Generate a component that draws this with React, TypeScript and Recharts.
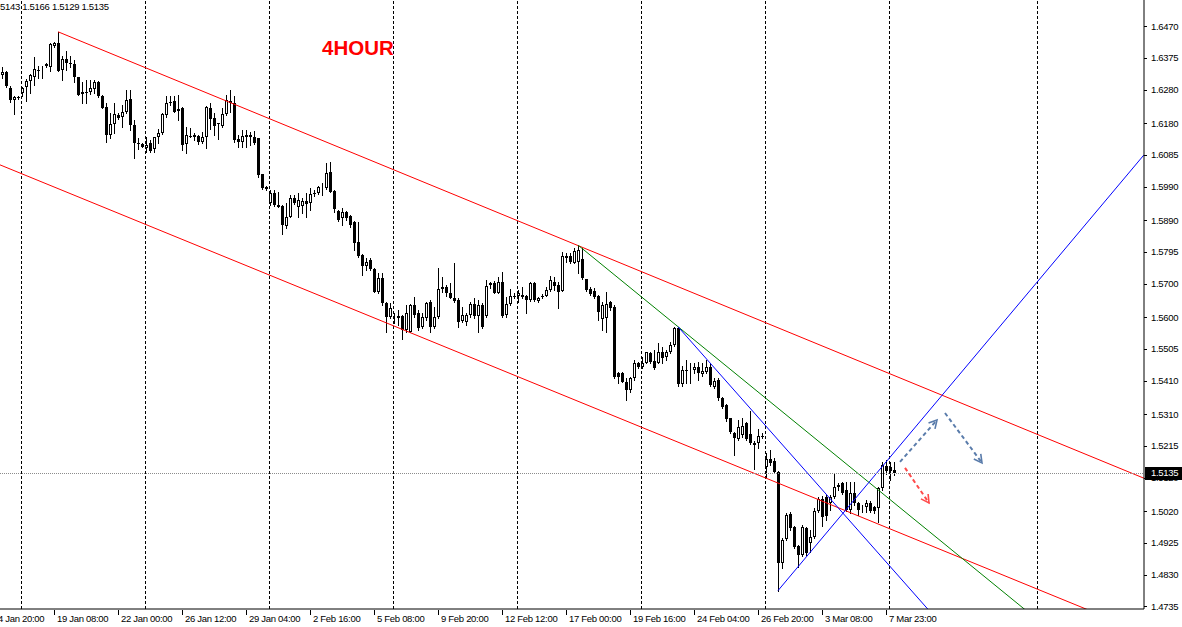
import React from "react"
import { ComposedChart, Bar, XAxis, YAxis, ReferenceLine } from "recharts"

// GBPUSD H4 candles, oldest first
const opens = [
  1.6324, 1.6333, 1.6285, 1.6249, 1.6258, 1.6270, 1.6288, 1.6306, 1.6318, 1.6339,
  1.6339, 1.6357, 1.6348, 1.6410, 1.6419, 1.6339, 1.6372, 1.6361, 1.6356, 1.6317,
  1.6266, 1.6274, 1.6274, 1.6283, 1.6303, 1.6261, 1.6228, 1.6144, 1.6177, 1.6204,
  1.6198, 1.6213, 1.6252, 1.6174, 1.6120, 1.6117, 1.6105, 1.6121, 1.6103, 1.6138,
  1.6149, 1.6204, 1.6244, 1.6247, 1.6221, 1.6225, 1.6117, 1.6141, 1.6144, 1.6141,
  1.6124, 1.6137, 1.6224, 1.6194, 1.6179, 1.6171, 1.6207, 1.6247, 1.6239, 1.6132,
  1.6124, 1.6144, 1.6144, 1.6137, 1.6134, 1.6027, 1.5990, 1.5942, 1.5970, 1.5935,
  1.5932, 1.5873, 1.5900, 1.5955, 1.5930, 1.5932, 1.5948, 1.5940, 1.5970, 1.5970,
  1.5985, 1.5985, 1.6035, 1.5978, 1.5918, 1.5895, 1.5915, 1.5902, 1.5885, 1.5824,
  1.5786, 1.5753, 1.5771, 1.5743, 1.5676, 1.5716, 1.5641, 1.5601, 1.5596, 1.5596,
  1.5604, 1.5561, 1.5556, 1.5636, 1.5611, 1.5569, 1.5596, 1.5646, 1.5571, 1.5601,
  1.5689, 1.5689, 1.5671, 1.5656, 1.5651, 1.5589, 1.5586, 1.5606, 1.5639, 1.5603,
  1.5636, 1.5603, 1.5701, 1.5701, 1.5673, 1.5706, 1.5606, 1.5639, 1.5664, 1.5664,
  1.5666, 1.5663, 1.5651, 1.5701, 1.5649, 1.5664, 1.5664, 1.5681, 1.5706, 1.5696,
  1.5679, 1.5776, 1.5783, 1.5763, 1.5766, 1.5773, 1.5713, 1.5683, 1.5679, 1.5663,
  1.5593, 1.5596, 1.5646, 1.5629, 1.5434, 1.5432, 1.5407, 1.5382, 1.5417, 1.5462,
  1.5452, 1.5464, 1.5492, 1.5470, 1.5464, 1.5495, 1.5481, 1.5494, 1.5516, 1.5568,
  1.5400, 1.5442, 1.5442, 1.5442, 1.5452, 1.5430, 1.5437, 1.5450, 1.5392, 1.5412,
  1.5357, 1.5337, 1.5297, 1.5252, 1.5234, 1.5247, 1.5282, 1.5249, 1.5223, 1.5223,
  1.5244, 1.5153, 1.5175, 1.5171, 1.5136, 1.4864, 1.4935, 1.5011, 1.4971, 1.4915,
  1.4889, 1.4968, 1.4925, 1.4943, 1.5020, 1.5055, 1.5062, 1.5045, 1.5061, 1.5098,
  1.5105, 1.5083, 1.5023, 1.5075, 1.5043, 1.5030, 1.5033, 1.5045, 1.5031, 1.5028,
  1.5088, 1.5155, 1.5153, 1.5143,
]

const highs = [
  1.6348, 1.6336, 1.6291, 1.6261, 1.6261, 1.6288, 1.6312, 1.6327, 1.6378, 1.6351,
  1.6351, 1.6360, 1.6419, 1.6422, 1.6453, 1.6381, 1.6396, 1.6381, 1.6369, 1.6318,
  1.6304, 1.6309, 1.6309, 1.6309, 1.6306, 1.6264, 1.6240, 1.6210, 1.6240, 1.6210,
  1.6234, 1.6279, 1.6279, 1.6189, 1.6135, 1.6120, 1.6139, 1.6129, 1.6139, 1.6162,
  1.6211, 1.6261, 1.6261, 1.6261, 1.6264, 1.6228, 1.6169, 1.6165, 1.6151, 1.6144,
  1.6154, 1.6231, 1.6241, 1.6210, 1.6180, 1.6225, 1.6264, 1.6279, 1.6261, 1.6144,
  1.6159, 1.6159, 1.6154, 1.6157, 1.6135, 1.6028, 1.5992, 1.5980, 1.5980, 1.5975,
  1.5935, 1.5940, 1.5965, 1.5965, 1.5970, 1.5956, 1.5970, 1.5985, 1.5980, 1.5992,
  1.6000, 1.6060, 1.6065, 1.5980, 1.5920, 1.5925, 1.5917, 1.5905, 1.5887, 1.5885,
  1.5788, 1.5776, 1.5776, 1.5747, 1.5731, 1.5731, 1.5646, 1.5643, 1.5611, 1.5621,
  1.5606, 1.5636, 1.5639, 1.5661, 1.5621, 1.5612, 1.5646, 1.5651, 1.5631, 1.5746,
  1.5721, 1.5696, 1.5701, 1.5761, 1.5657, 1.5629, 1.5613, 1.5646, 1.5656, 1.5651,
  1.5642, 1.5711, 1.5706, 1.5708, 1.5721, 1.5736, 1.5661, 1.5683, 1.5673, 1.5681,
  1.5691, 1.5666, 1.5706, 1.5706, 1.5660, 1.5669, 1.5689, 1.5723, 1.5721, 1.5705,
  1.5795, 1.5791, 1.5791, 1.5806, 1.5815, 1.5806, 1.5714, 1.5690, 1.5687, 1.5666,
  1.5646, 1.5676, 1.5649, 1.5636, 1.5437, 1.5436, 1.5417, 1.5422, 1.5472, 1.5467,
  1.5481, 1.5496, 1.5496, 1.5502, 1.5522, 1.5511, 1.5502, 1.5526, 1.5571, 1.5571,
  1.5454, 1.5472, 1.5462, 1.5464, 1.5467, 1.5462, 1.5472, 1.5462, 1.5417, 1.5418,
  1.5361, 1.5340, 1.5298, 1.5257, 1.5292, 1.5297, 1.5287, 1.5320, 1.5229, 1.5264,
  1.5252, 1.5193, 1.5203, 1.5178, 1.5140, 1.4939, 1.5013, 1.5017, 1.4975, 1.4918,
  1.4978, 1.4973, 1.4963, 1.5028, 1.5063, 1.5065, 1.5068, 1.5068, 1.5133, 1.5105,
  1.5108, 1.5108, 1.5108, 1.5108, 1.5047, 1.5038, 1.5053, 1.5051, 1.5035, 1.5093,
  1.5168, 1.5173, 1.5168, 1.5166,
]

const lows = [
  1.6315, 1.6288, 1.6243, 1.6207, 1.6252, 1.6261, 1.6246, 1.6270, 1.6294, 1.6315,
  1.6315, 1.6348, 1.6336, 1.6407, 1.6336, 1.6309, 1.6339, 1.6349, 1.6304, 1.6264,
  1.6240, 1.6240, 1.6267, 1.6270, 1.6258, 1.6225, 1.6124, 1.6135, 1.6150, 1.6192,
  1.6169, 1.6211, 1.6159, 1.6076, 1.6103, 1.6108, 1.6094, 1.6094, 1.6094, 1.6121,
  1.6147, 1.6199, 1.6234, 1.6213, 1.6189, 1.6100, 1.6090, 1.6138, 1.6129, 1.6117,
  1.6119, 1.6105, 1.6161, 1.6144, 1.6132, 1.6169, 1.6204, 1.6214, 1.6124, 1.6109,
  1.6109, 1.6109, 1.6114, 1.6117, 1.6020, 1.5983, 1.5980, 1.5935, 1.5932, 1.5929,
  1.5848, 1.5865, 1.5899, 1.5938, 1.5900, 1.5911, 1.5900, 1.5920, 1.5962, 1.5968,
  1.5965, 1.5983, 1.5974, 1.5915, 1.5887, 1.5875, 1.5890, 1.5870, 1.5801, 1.5780,
  1.5726, 1.5741, 1.5741, 1.5675, 1.5672, 1.5636, 1.5556, 1.5597, 1.5581, 1.5576,
  1.5533, 1.5555, 1.5555, 1.5601, 1.5561, 1.5567, 1.5591, 1.5556, 1.5567, 1.5597,
  1.5675, 1.5663, 1.5657, 1.5645, 1.5569, 1.5585, 1.5576, 1.5601, 1.5597, 1.5556,
  1.5567, 1.5601, 1.5686, 1.5672, 1.5672, 1.5600, 1.5601, 1.5636, 1.5657, 1.5646,
  1.5657, 1.5613, 1.5648, 1.5648, 1.5645, 1.5656, 1.5663, 1.5678, 1.5681, 1.5626,
  1.5678, 1.5766, 1.5762, 1.5761, 1.5733, 1.5714, 1.5678, 1.5666, 1.5657, 1.5591,
  1.5561, 1.5556, 1.5621, 1.5418, 1.5404, 1.5406, 1.5352, 1.5377, 1.5412, 1.5447,
  1.5448, 1.5462, 1.5464, 1.5445, 1.5462, 1.5462, 1.5472, 1.5492, 1.5513, 1.5394,
  1.5394, 1.5402, 1.5402, 1.5433, 1.5412, 1.5424, 1.5433, 1.5394, 1.5388, 1.5352,
  1.5328, 1.5289, 1.5253, 1.5188, 1.5232, 1.5242, 1.5232, 1.5220, 1.5145, 1.5208,
  1.5237, 1.5123, 1.5158, 1.5134, 1.4782, 1.4849, 1.4933, 1.4963, 1.4909, 1.4852,
  1.4886, 1.4889, 1.4898, 1.4939, 1.5017, 1.4975, 1.4993, 1.5023, 1.5059, 1.5083,
  1.5071, 1.5020, 1.5014, 1.5038, 1.5008, 1.5018, 1.5018, 1.5017, 1.5014, 1.4988,
  1.5083, 1.5131, 1.5113, 1.5129,
]

const closes = [
  1.6333, 1.6291, 1.6249, 1.6258, 1.6257, 1.6285, 1.6306, 1.6324, 1.6342, 1.6337,
  1.6340, 1.6351, 1.6416, 1.6419, 1.6337, 1.6372, 1.6360, 1.6356, 1.6317, 1.6264,
  1.6274, 1.6273, 1.6284, 1.6303, 1.6261, 1.6225, 1.6144, 1.6177, 1.6207, 1.6196,
  1.6213, 1.6249, 1.6174, 1.6121, 1.6117, 1.6109, 1.6114, 1.6097, 1.6137, 1.6150,
  1.6207, 1.6239, 1.6239, 1.6214, 1.6217, 1.6114, 1.6144, 1.6140, 1.6139, 1.6124,
  1.6137, 1.6227, 1.6191, 1.6171, 1.6176, 1.6207, 1.6249, 1.6239, 1.6129, 1.6124,
  1.6141, 1.6139, 1.6137, 1.6121, 1.6025, 1.5985, 1.5982, 1.5970, 1.5935, 1.5930,
  1.5875, 1.5900, 1.5955, 1.5942, 1.5950, 1.5948, 1.5937, 1.5968, 1.5969, 1.5988,
  1.5986, 1.6032, 1.5975, 1.5922, 1.5890, 1.5915, 1.5895, 1.5875, 1.5822, 1.5783,
  1.5753, 1.5766, 1.5743, 1.5676, 1.5716, 1.5641, 1.5601, 1.5626, 1.5597, 1.5604,
  1.5561, 1.5611, 1.5636, 1.5606, 1.5566, 1.5601, 1.5641, 1.5569, 1.5601, 1.5683,
  1.5683, 1.5671, 1.5658, 1.5649, 1.5586, 1.5606, 1.5606, 1.5639, 1.5603, 1.5636,
  1.5571, 1.5693, 1.5696, 1.5673, 1.5706, 1.5603, 1.5639, 1.5664, 1.5663, 1.5671,
  1.5661, 1.5651, 1.5701, 1.5651, 1.5656, 1.5663, 1.5681, 1.5711, 1.5693, 1.5676,
  1.5783, 1.5783, 1.5766, 1.5798, 1.5801, 1.5716, 1.5681, 1.5669, 1.5659, 1.5616,
  1.5636, 1.5639, 1.5626, 1.5422, 1.5422, 1.5407, 1.5382, 1.5417, 1.5462, 1.5450,
  1.5464, 1.5494, 1.5467, 1.5447, 1.5495, 1.5477, 1.5494, 1.5516, 1.5566, 1.5400,
  1.5442, 1.5441, 1.5443, 1.5452, 1.5432, 1.5440, 1.5450, 1.5397, 1.5410, 1.5357,
  1.5332, 1.5294, 1.5257, 1.5237, 1.5270, 1.5274, 1.5234, 1.5223, 1.5218, 1.5244,
  1.5243, 1.5175, 1.5165, 1.5138, 1.4866, 1.4933, 1.5008, 1.4968, 1.4913, 1.4889,
  1.4971, 1.4894, 1.4943, 1.5020, 1.5055, 1.5001, 1.5005, 1.5061, 1.5093, 1.5091,
  1.5075, 1.5023, 1.5075, 1.5043, 1.5023, 1.5031, 1.5045, 1.5021, 1.5021, 1.5088,
  1.5158, 1.5141, 1.5141, 1.5135,
]

// time axis: bar index of each label, and the label text
const dateIdx = [-3, 13, 29, 45, 61, 77, 93, 109, 125, 141, 157, 173, 189, 205, 221]
const dateLabels = [
  "14 Jan 20:00", "19 Jan 08:00", "22 Jan 00:00", "26 Jan 12:00", "29 Jan 04:00",
  "2 Feb 16:00", "5 Feb 08:00", "9 Feb 20:00", "12 Feb 12:00", "17 Feb 00:00",
  "19 Feb 16:00", "24 Feb 04:00", "26 Feb 20:00", "3 Mar 08:00", "7 Mar 23:00",
]

// dashed vertical separators (bar positions)
const gridIdx = [4.75, 35.75, 66.75, 97.75, 128.75, 159.75, 190.75, 221.75, 258.75]

const priceTicks = [
  1.647, 1.6375, 1.628, 1.618, 1.6085, 1.599, 1.589, 1.5795, 1.57, 1.56,
  1.5505, 1.541, 1.531, 1.5215, 1.512, 1.502, 1.4925, 1.483, 1.4735,
]

const lastPrice = 1.5135
const SYMBOL_INFO = "1.5143 1.5166 1.5129 1.5135"

// trend lines drawn on the chart: [barIndex, price] pairs
const trendLines = [
  { from: [14, 1.6453], to: [285.5, 1.5118], color: "#ff0000" },
  { from: [-0.5, 1.6055], to: [285.5, 1.4656], color: "#ff0000" },
  { from: [144, 1.5815], to: [285.5, 1.4435], color: "#008000" },
  { from: [169, 1.5571], to: [285.5, 1.3996], color: "#0000ff" },
  { from: [194, 1.4782], to: [285.5, 1.6085], color: "#0000ff" },
]

const arrows = [
  { from: [224.5, 1.5167], to: [233.75, 1.5292], color: "#5a7cab" },
  { from: [235.75, 1.5313], to: [245, 1.5164], color: "#5a7cab" },
  { from: [225.75, 1.5149], to: [231.75, 1.5044], color: "#ff4a4a" },
]

const FONT = "'Liberation Sans', Arial, sans-serif"

const candles = opens.map((open, i) => ({
  i,
  open,
  high: highs[i],
  low: lows[i],
  close: closes[i],
  range: [lows[i], highs[i]],
}))

const Candle = (props: any) => {
  const { x, y, width, height, payload } = props
  if (x == null || !payload) return null
  const top = Math.min(y, y + height)
  const h = Math.abs(height)
  const { open, high, low, close } = payload
  const span = high - low || 1e-9
  const toY = (p: number) => top + ((high - p) / span) * h
  const cx = Math.round(x + width / 2)
  const bTop = Math.round(Math.min(toY(open), toY(close)))
  const bBot = Math.max(bTop + 1, Math.round(Math.max(toY(open), toY(close))))
  const up = close > open
  return (
    <g shapeRendering="crispEdges">
      <line x1={cx + 0.5} x2={cx + 0.5} y1={Math.round(top)} y2={Math.round(top + h) + 1} stroke="#000" />
      {up ? (
        <rect x={cx - 0.5} y={bTop + 0.5} width={2} height={Math.max(bBot - bTop - 1, 0)} fill="#fff" stroke="#000" />
      ) : (
        <rect x={cx - 1} y={bTop} width={3} height={Math.max(bBot - bTop, 1)} fill="#000" />
      )}
    </g>
  )
}

// price labels; the current price is drawn last as a black box on top
const PriceTick = (props: any) => {
  const { x, y, payload } = props
  const yy = Math.round(y) + 0.5
  if (payload.value === lastPrice) {
    return (
      <g>
        <rect x={x + 1} y={Math.round(y) - 6} width={38} height={13} fill="#000" />
        <text x={x + 7} y={y + 3.5} fontSize={9.5} letterSpacing={-0.3} fontFamily={FONT} fill="#fff">
          {lastPrice.toFixed(4)}
        </text>
      </g>
    )
  }
  return (
    <g>
      <line x1={x} x2={x + 3} y1={yy} y2={yy} stroke="#000" shapeRendering="crispEdges" />
      <text x={x + 7} y={y + 3.5} fontSize={9.5} letterSpacing={-0.3} fontFamily={FONT} fill="#000">
        {payload.value.toFixed(4)}
      </text>
    </g>
  )
}

const DateTick = (props: any) => {
  const { x, y, payload } = props
  const k = dateIdx.indexOf(payload.value)
  const xx = Math.round(x) + 0.5
  return (
    <g>
      <line x1={xx} x2={xx} y1={y + 1} y2={y + 6} stroke="#000" shapeRendering="crispEdges" />
      <text x={x + 3} y={y + 13} fontSize={9.5} letterSpacing={-0.3} fontFamily={FONT} fill="#000">
        {dateLabels[k]}
      </text>
    </g>
  )
}

const priceLine = (props: any) => {
  const { x1, x2, y1 } = props
  const yy = Math.round(y1) + 0.5
  return (
    <line
      x1={Math.min(x1, x2)}
      x2={Math.max(x1, x2)}
      y1={yy}
      y2={yy}
      stroke="#8c8c8c"
      strokeDasharray="1 1"
      shapeRendering="crispEdges"
    />
  )
}

const arrowShape = (color: string) => (props: any) => {
  const { x1, y1, x2, y2 } = props
  const ang = Math.atan2(y2 - y1, x2 - x1)
  const len = 9
  const a1 = ang + Math.PI - 0.5
  const a2 = ang + Math.PI + 0.5
  const pts = `${x2 + len * Math.cos(a1)},${y2 + len * Math.sin(a1)} ${x2},${y2} ${x2 + len * Math.cos(a2)},${y2 + len * Math.sin(a2)}`
  return (
    <g>
      <line x1={x1} y1={y1} x2={x2} y2={y2} stroke={color} strokeWidth={2} strokeDasharray="4 3" />
      <polyline points={pts} fill="none" stroke={color} strokeWidth={1.6} />
    </g>
  )
}

export default function App() {
  return (
    <div style={{ position: "relative", width: 1182, height: 627, background: "#fff", overflow: "hidden" }}>
      <style>{"body{margin:0;background:#fff}"}</style>
      <ComposedChart width={1182} height={627} data={candles} margin={{ top: 0, right: 0, bottom: 0, left: 0 }}>
        <XAxis
          type="number"
          dataKey="i"
          domain={[-0.5, 285.5]}
          allowDataOverflow
          ticks={dateIdx}
          interval={0}
          tick={DateTick}
          tickLine={false}
          tickSize={0}
          tickMargin={0}
          axisLine={{ stroke: "#000" }}
          height={18}
        />
        <YAxis
          orientation="right"
          type="number"
          domain={[1.4727, 1.6548]}
          allowDataOverflow
          ticks={[...priceTicks, lastPrice]}
          interval={0}
          tick={PriceTick}
          tickLine={false}
          tickSize={0}
          tickMargin={0}
          axisLine={{ stroke: "#000" }}
          width={38}
        />
        {gridIdx.map((v) => (
          <ReferenceLine key={`g${v}`} x={v} stroke="#000" strokeDasharray="3 2" ifOverflow="visible" shapeRendering="crispEdges" />
        ))}
        <Bar dataKey="range" barSize={3} shape={Candle} isAnimationActive={false} />
        {trendLines.map((t, n) => (
          <ReferenceLine
            key={`t${n}`}
            segment={[{ x: t.from[0], y: t.from[1] }, { x: t.to[0], y: t.to[1] }]}
            stroke={t.color}
            strokeWidth={1}
            ifOverflow="hidden"
          />
        ))}
        <ReferenceLine y={lastPrice} ifOverflow="visible" shape={priceLine} />
        {arrows.map((a, n) => (
          <ReferenceLine
            key={`a${n}`}
            segment={[{ x: a.from[0], y: a.from[1] }, { x: a.to[0], y: a.to[1] }]}
            ifOverflow="visible"
            shape={arrowShape(a.color)}
          />
        ))}
      </ComposedChart>
      <svg width={1182} height={627} style={{ position: "absolute", left: 0, top: 0, pointerEvents: "none" }}>
        <text x={-7.3} y={9.5} fontSize={9.5} letterSpacing={-0.3} fontFamily={FONT} fill="#000">
          {SYMBOL_INFO}
        </text>
        <text x={322} y={55} fontSize={20.5} fontWeight="bold" fontFamily={FONT} fill="#ff0000">
          4HOUR
        </text>
      </svg>
    </div>
  )
}
